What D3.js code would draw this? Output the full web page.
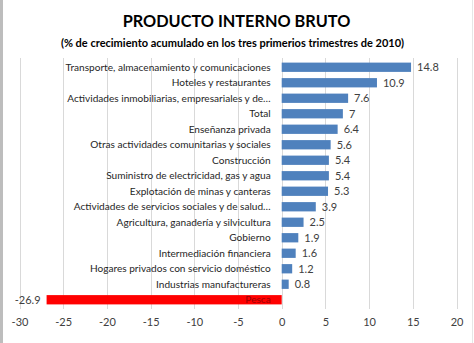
<!DOCTYPE html>
<html>
<head>
<meta charset="utf-8">
<script src="https://cdn.jsdelivr.net/npm/d3@7/dist/d3.min.js"></script>
<style>
  html, body { margin: 0; padding: 0; background: #fff; }
  svg { display: block; }
</style>
</head>
<body>
<svg id="chart" width="474" height="343"></svg>
<script>
// PIB por actividad: % de crecimiento acumulado, tres primeros trimestres de 2010
const categories = [
  "Transporte, almacenamiento y comunicaciones",
  "Hoteles y restaurantes",
  "Actividades inmobiliarias, empresariales y de…",
  "Total",
  "Enseñanza privada",
  "Otras actividades comunitarias y sociales",
  "Construcción",
  "Suministro de electricidad, gas y agua",
  "Explotación de minas y canteras",
  "Actividades de servicios sociales y de salud…",
  "Agricultura, ganadería y silvicultura",
  "Gobierno",
  "Intermediación financiera",
  "Hogares privados con servicio doméstico",
  "Industrias manufactureras",
  "Pesca"
];
const growth = [14.8, 10.9, 7.6, 7, 6.4, 5.6, 5.4, 5.4, 5.3, 3.9, 2.5, 1.9, 1.6, 1.2, 0.8, -26.9];
const tickValues = [-30, -25, -20, -15, -10, -5, 0, 5, 10, 15, 20];
const titleText = "PRODUCTO INTERNO BRUTO";
const subtitleText = "(% de crecimiento acumulado en los tres primerios trimestres de 2010)";

const data = categories.map((c, i) => ({ name: c, value: growth[i] }));

const svg = d3.select("#chart");
const W = 474, H = 343;
const FONT = "Lato, 'Open Sans', sans-serif";

// frame: grey strip on the left edge, faint line on the right
svg.append("rect").attr("x", 0).attr("y", 0).attr("width", 3).attr("height", H).attr("fill", "#bdbdbd");
svg.append("line").attr("x1", 472.5).attr("x2", 472.5).attr("y1", 0).attr("y2", H)
  .attr("stroke", "#e6e6e6").attr("stroke-width", 1);

const x = d3.scaleLinear().domain([-30, 20]).range([19.5, 456.5]);
const y = d3.scaleBand().domain(categories).range([59.5, 307.5])
  .paddingInner(0.4).paddingOuter(0.2);

// vertical gridlines
svg.append("g").selectAll("line").data(tickValues).join("line")
  .attr("x1", d => Math.round(x(d)) + 0.5).attr("x2", d => Math.round(x(d)) + 0.5)
  .attr("y1", 58).attr("y2", 309)
  .attr("stroke", "#d9d9d9").attr("stroke-width", 1);

// bottom axis labels only (plain hyphen for negatives)
const axis = d3.axisBottom(x).tickValues(tickValues).tickSize(0).tickPadding(0)
  .tickFormat(d => String(d));
const gx = svg.append("g").attr("transform", "translate(0,318)").call(axis);
gx.select(".domain").remove();
gx.selectAll("text").attr("font-family", FONT).attr("font-size", 11)
  .attr("fill", "#404040").attr("dy", "0.71em");

// bars
svg.append("g").selectAll("rect").data(data).join("rect")
  .attr("x", d => x(Math.min(0, d.value)))
  .attr("width", d => Math.abs(x(d.value) - x(0)))
  .attr("y", d => y(d.name))
  .attr("height", y.bandwidth())
  .attr("fill", d => d.value < 0 ? "#ff0000" : "#4f81bd");

// category labels, right-aligned next to the zero line
svg.append("g").selectAll("text").data(data).join("text")
  .attr("x", x(0) - 11)
  .attr("y", d => y(d.name) + y.bandwidth() / 2)
  .attr("dy", "0.35em")
  .attr("text-anchor", "end")
  .attr("font-family", FONT).attr("font-size", 10.1)
  .attr("fill", d => d.value < 0 ? "#9c0006" : "#262626")
  .text(d => d.name);

// value labels at the bar ends
svg.append("g").selectAll("text").data(data).join("text")
  .attr("x", d => d.value < 0 ? x(d.value) - 6 : x(d.value) + 6)
  .attr("y", d => y(d.name) + y.bandwidth() / 2)
  .attr("dy", "0.35em")
  .attr("text-anchor", d => d.value < 0 ? "end" : "start")
  .attr("font-family", FONT).attr("font-size", 11)
  .attr("fill", "#404040")
  .text(d => d.value);

// titles
svg.append("text").attr("x", 236.5).attr("y", 27).attr("text-anchor", "middle")
  .attr("font-family", FONT).attr("font-weight", "bold").attr("font-size", 16.3)
  .attr("fill", "#000").text(titleText);
svg.append("text").attr("x", 232.5).attr("y", 47).attr("text-anchor", "middle")
  .attr("font-family", FONT).attr("font-weight", "bold").attr("font-size", 11)
  .attr("fill", "#000").text(subtitleText);
</script>
</body>
</html>
